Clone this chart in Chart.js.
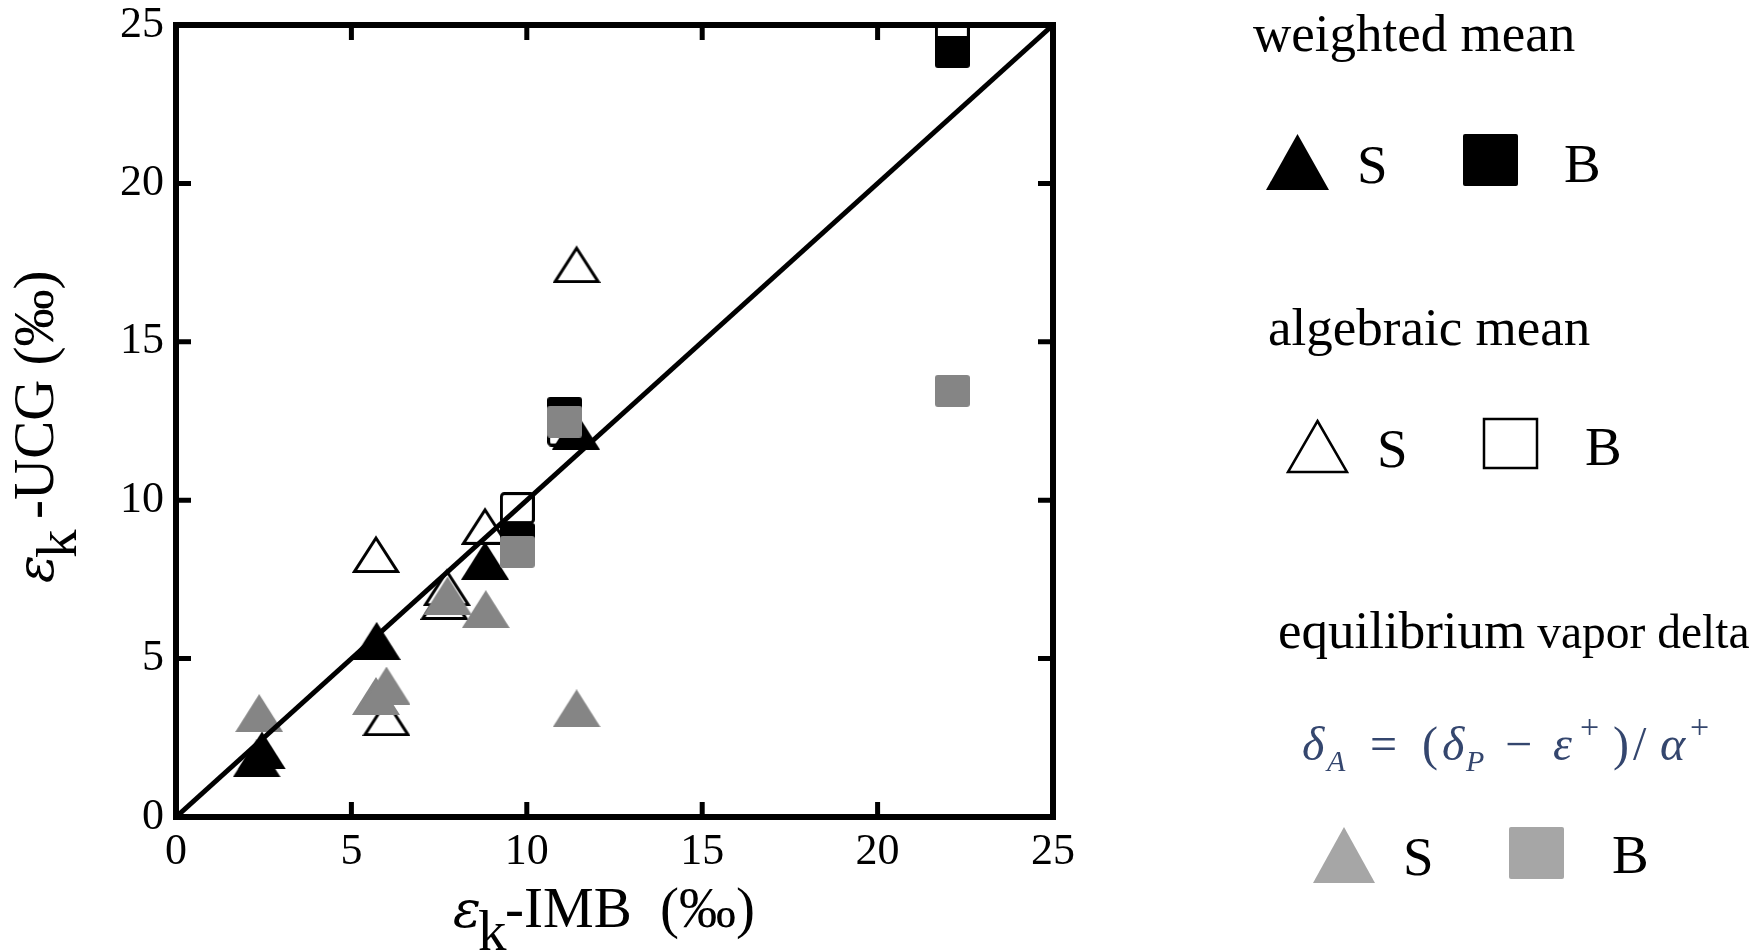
<!DOCTYPE html>
<html>
<head>
<meta charset="utf-8">
<script src="https://cdn.jsdelivr.net/npm/chart.js@4.4.1/dist/chart.umd.min.js"></script>
<style>
  html, body { margin: 0; padding: 0; background: #fff; }
  #wrap { position: relative; width: 1762px; height: 951px; overflow: hidden; }
  #chart { position: absolute; left: 0; top: 0; }
  #overlay { position: absolute; left: 0; top: 0; pointer-events: none; }
  #overlay text { font-family: "Liberation Serif", "Times New Roman", serif; fill: #000; }
  #overlay .f text { fill: #34466e; }
  #overlay .eps { font-family: "DejaVu Serif", serif; font-style: italic; }
</style>
</head>
<body>
<div id="wrap">
  <canvas id="chart" width="1100" height="951"></canvas>
  <svg id="overlay" width="1762" height="951" xmlns="http://www.w3.org/2000/svg">
    <!-- axis titles -->
    <text x="453" y="927" font-size="57"><tspan class="eps" font-size="52">ε</tspan><tspan dx="-3" dy="23">k</tspan><tspan x="505" dy="-23">-IMB</tspan><tspan x="660">(‰)</tspan></text>
    <g transform="translate(53,426) rotate(-90)">
      <text x="-157" y="0" font-size="57"><tspan class="eps" font-size="52">ε</tspan><tspan dx="-3" dy="23">k</tspan><tspan x="-93" dy="-23">-UCG (‰)</tspan></text>
    </g>

    <!-- legend: weighted mean -->
    <text x="1253" y="51" font-size="53">weighted mean</text>
    <polygon points="1297.5,134 1329,190 1266,190" fill="#000"/>
    <text x="1357" y="183" font-size="55">S</text>
    <rect x="1463" y="134" width="55" height="52" rx="2" fill="#000"/>
    <text x="1564" y="182" font-size="55">B</text>

    <!-- legend: algebraic mean -->
    <text x="1268" y="345" font-size="53">algebraic mean</text>
    <polygon points="1317.5,421 1347,472 1288,472" fill="#fff" stroke="#000" stroke-width="2.5"/>
    <text x="1377" y="467" font-size="55">S</text>
    <rect x="1484" y="419" width="53" height="49" fill="#fff" stroke="#000" stroke-width="2.5"/>
    <text x="1585" y="465" font-size="55">B</text>

    <!-- legend: equilibrium vapor delta -->
    <text x="1278" y="648" font-size="53">equilibrium<tspan font-size="47.5"> vapor delta</tspan></text>
    <g class="f">
      <text font-size="48" font-style="italic">
        <tspan x="1302" y="760">δ</tspan><tspan x="1327" y="771" font-size="30">A</tspan>
        <tspan x="1370" y="760" font-style="normal">=</tspan>
        <tspan x="1422" y="760" font-style="normal">(</tspan>
        <tspan x="1442" y="760">δ</tspan><tspan x="1466" y="771" font-size="30">P</tspan>
        <tspan x="1505" y="760" font-style="normal">−</tspan>
        <tspan x="1553" y="760">ε</tspan><tspan x="1580" y="738" font-size="34" font-style="normal">+</tspan>
        <tspan x="1613" y="760" font-style="normal">)</tspan>
        <tspan x="1633" y="760" font-style="normal">/</tspan>
        <tspan x="1660" y="760">α</tspan><tspan x="1690" y="738" font-size="34" font-style="normal">+</tspan>
      </text>
    </g>
    <polygon points="1344,827 1375,883 1313,883" fill="#a6a6a6"/>
    <text x="1403" y="875" font-size="55">S</text>
    <rect x="1509" y="827" width="55" height="52" rx="2" fill="#a6a6a6"/>
    <text x="1612" y="873" font-size="55">B</text>
  </svg>
</div>
<script>
// axis ticks
const tickValues = [0, 5, 10, 15, 20, 25];

// 1:1 line
const lineX = [0, 25];
const lineY = [0, 25];

// weighted mean (black filled)
const weightedS_x = [2.3, 2.45, 5.72, 8.81, 11.4];
const weightedS_y = [1.85, 2.1, 5.56, 8.09, 12.2];
const weightedB_x = [9.73, 11.08, 22.13];
const weightedB_y = [8.78, 12.75, 24.15];

// algebraic mean (open)
const algebraicS_x = [5.7, 6.0, 7.65, 7.72, 8.81, 11.42];
const algebraicS_y = [8.3, 3.15, 6.82, 7.25, 9.19, 17.45];
const algebraicB_x = [9.73, 11.08, 22.13];
const algebraicB_y = [9.75, 12.2, 24.8];

// equilibrium vapor delta (gray)
const equilS_x = [2.37, 5.7, 6.0, 7.74, 8.83, 11.42];
const equilS_y = [3.28, 3.82, 4.15, 6.99, 6.56, 3.43];
const equilB_x = [9.73, 11.08, 22.13];
const equilB_y = [8.37, 12.48, 13.45];

function pts(xs, ys) {
  return xs.map((x, i) => ({ x: x, y: ys[i] }));
}

// marker images: triangle 48x38, square 35x32
function marker(shape, fill, stroke, lw) {
  const w = shape === 'tri' ? 48 : 35;
  const h = shape === 'tri' ? 38 : 32;
  const c = document.createElement('canvas');
  c.width = w; c.height = h;
  const g = c.getContext('2d');
  const p = lw ? lw / 2 : 0;
  g.beginPath();
  if (shape === 'tri') {
    g.moveTo(w / 2, lw ? 3 : 0);
    g.lineTo(w - p - (lw ? 1 : 0), h - p);
    g.lineTo(p + (lw ? 1 : 0), h - p);
    g.closePath();
  } else {
    g.roundRect(p, p, w - 2 * p, h - 2 * p, 3);
  }
  g.fillStyle = fill;
  g.fill();
  if (lw) {
    g.lineWidth = lw;
    g.strokeStyle = stroke;
    g.stroke();
  }
  return c;
}

const gray = '#858585';

const framePlugin = {
  id: 'frame',
  afterDraw(chart) {
    const { ctx, chartArea: a, scales } = chart;
    const x = scales.x, y = scales.y;
    ctx.save();
    ctx.strokeStyle = '#000';
    ctx.lineWidth = 5;
    ctx.beginPath();
    x.ticks.forEach(t => {
      const px = x.getPixelForValue(t.value);
      ctx.moveTo(px, a.bottom); ctx.lineTo(px, a.bottom - 15);
      ctx.moveTo(px, a.top); ctx.lineTo(px, a.top + 15);
    });
    y.ticks.forEach(t => {
      const py = y.getPixelForValue(t.value);
      ctx.moveTo(a.left, py); ctx.lineTo(a.left + 15, py);
      ctx.moveTo(a.right, py); ctx.lineTo(a.right - 15, py);
    });
    ctx.stroke();
    ctx.lineWidth = 6;
    ctx.strokeRect(a.left, a.top, a.right - a.left, a.bottom - a.top);
    ctx.restore();
  }
};

const tickFont = { family: '"Liberation Serif", "Times New Roman", serif', size: 44 };

new Chart(document.getElementById('chart').getContext('2d'), {
  type: 'scatter',
  data: {
    datasets: [
      {
        label: '1:1',
        data: pts(lineX, lineY),
        showLine: true,
        borderColor: '#000',
        borderWidth: 5,
        pointRadius: 0
      },
      { label: 'equilibrium S', data: pts(equilS_x, equilS_y), pointStyle: marker('tri', gray) },
      { label: 'equilibrium B', data: pts(equilB_x, equilB_y), pointStyle: marker('sq', gray) },
      { label: 'weighted S', data: pts(weightedS_x, weightedS_y), pointStyle: marker('tri', '#000') },
      { label: 'weighted B', data: pts(weightedB_x, weightedB_y), pointStyle: marker('sq', '#000') },
      { label: 'algebraic S', data: pts(algebraicS_x, algebraicS_y), pointStyle: marker('tri', '#fff', '#000', 3) },
      { label: 'algebraic B', data: pts(algebraicB_x, algebraicB_y), pointStyle: marker('sq', '#fff', '#000', 3) }
    ]
  },
  options: {
    responsive: false,
    animation: false,
    events: [],
    layout: { padding: { top: 25, right: 47, left: 0, bottom: 0 } },
    plugins: {
      legend: { display: false },
      tooltip: { enabled: false },
      title: { display: false }
    },
    scales: {
      x: {
        type: 'linear',
        min: 0, max: 25,
        afterBuildTicks: s => { s.ticks = tickValues.map(v => ({ value: v })); },
        afterFit: s => { s.height = 134; s.paddingLeft = 0; s.paddingRight = 0; },
        ticks: { font: tickFont, color: '#000', padding: 9, maxRotation: 0 },
        grid: { display: false, drawTicks: false },
        border: { display: false }
      },
      y: {
        type: 'linear',
        min: 0, max: 25,
        afterBuildTicks: s => { s.ticks = tickValues.map(v => ({ value: v })); },
        afterFit: s => { s.width = 176; s.paddingTop = 0; s.paddingBottom = 0; },
        ticks: { font: tickFont, color: '#000', padding: 12 },
        grid: { display: false, drawTicks: false },
        border: { display: false }
      }
    }
  },
  plugins: [framePlugin]
});
</script>
</body>
</html>
